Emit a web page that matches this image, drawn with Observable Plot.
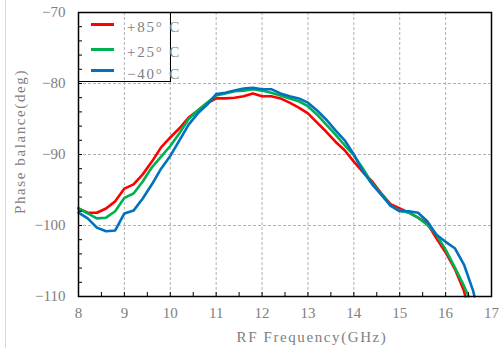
<!DOCTYPE html>
<html><head><meta charset="utf-8">
<script src="https://cdn.jsdelivr.net/npm/d3@7"></script>
<script src="https://cdn.jsdelivr.net/npm/@observablehq/plot@0.6"></script>
<style>
body{margin:0;background:#fff;}
#wrap{position:relative;width:504px;height:348px;overflow:hidden;font-family:"Liberation Serif",serif;}
#edge{position:absolute;left:5px;top:0;width:1px;height:348px;background:#d8d8d8;}
#legend{position:absolute;left:78px;top:12px;width:93px;height:70px;box-sizing:border-box;border:1.5px solid #000;}
.sw{position:absolute;left:12px;width:23px;height:3px;}
.lab{position:absolute;left:48px;color:#808080;font-size:15px;line-height:15px;letter-spacing:1.8px;white-space:nowrap;}
svg{position:absolute;left:0;top:0;}
</style></head>
<body><div id="wrap"><div id="edge"></div></div>
<script>
const seriesNames = ["+85° C", "+25° C", "−40° C"];
const seriesColors = ["#ff0000", "#00b050", "#0070c0"];

const freqRed = [8.0,8.2,8.4,8.6,8.8,9.0,9.2,9.4,9.6,9.8,10.0,10.2,10.4,10.6,10.8,11.0,11.2,11.4,11.6,11.8,12.0,12.2,12.4,12.6,12.8,13.0,13.2,13.4,13.6,13.8,14.0,14.2,14.4,14.6,14.8,15.0,15.2,15.4,15.6,15.8,16.0,16.2,16.4,16.43];
const phaseRed = [-97.6,-98.2,-98.2,-97.6,-96.6,-94.8,-94.2,-92.8,-91.0,-89.0,-87.6,-86.3,-84.8,-83.8,-82.8,-82.1,-82.1,-82.0,-81.8,-81.4,-81.8,-81.8,-82.1,-82.7,-83.4,-84.2,-85.5,-86.8,-88.2,-89.4,-91.0,-92.5,-93.8,-95.5,-97.0,-97.6,-98.2,-98.9,-99.7,-101.8,-103.8,-106.1,-109.2,-110];

const freqGreen = [8.0,8.2,8.4,8.6,8.8,9.0,9.2,9.4,9.6,9.8,10.0,10.2,10.4,10.6,10.8,11.0,11.2,11.4,11.6,11.8,12.0,12.2,12.4,12.6,12.8,13.0,13.2,13.4,13.6,13.8,14.0,14.2,14.4,14.6,14.8,15.0,15.2,15.4,15.6,15.8,16.0,16.2,16.4,16.5];
const phaseGreen = [-97.6,-98.3,-99.0,-98.9,-98.0,-96.1,-95.5,-93.8,-91.8,-90.3,-88.8,-87.0,-85.0,-83.8,-82.7,-81.7,-81.4,-81.1,-81.0,-80.8,-81.0,-81.3,-81.7,-82.1,-82.5,-83.2,-84.4,-85.8,-87.2,-88.7,-90.1,-92.0,-94.1,-95.5,-97.2,-97.9,-98.2,-98.9,-99.9,-101.3,-103.4,-105.9,-108.5,-110];

const freqBlue = [8.0,8.2,8.4,8.6,8.8,9.0,9.2,9.4,9.6,9.8,10.0,10.2,10.4,10.6,10.8,11.0,11.2,11.4,11.6,11.8,12.0,12.2,12.4,12.6,12.8,13.0,13.2,13.4,13.6,13.8,14.0,14.2,14.4,14.6,14.8,15.0,15.2,15.4,15.6,15.8,16.0,16.2,16.4,16.6,16.63];
const phaseBlue = [-98.2,-99.0,-100.3,-100.8,-100.7,-98.3,-97.9,-96.2,-94.2,-92.0,-90.2,-88.0,-85.8,-84.2,-83.0,-81.5,-81.3,-81.0,-80.7,-80.6,-80.8,-80.8,-81.4,-81.8,-82.1,-82.7,-83.8,-85.1,-86.6,-88.0,-90.0,-92.4,-94.2,-95.7,-97.2,-98.0,-98.0,-98.2,-99.4,-101.3,-102.3,-103.2,-105.5,-109.2,-110];

const xMajor = [8,9,10,11,12,13,14,15,16,17];
const xMinor = [8,8.5,9,9.5,10,10.5,11,11.5,12,12.5,13,13.5,14,14.5,15,15.5,16,16.5,17];
const yMajor = [-110,-100,-90,-80,-70];
const yMinor = [-110,-108,-106,-104,-102,-100,-98,-96,-94,-92,-90,-88,-86,-84,-82,-80,-78,-76,-74,-72,-70];
const xLabel = "RF Frequency(GHz)";
const yLabel = "Phase balance(deg)";

const freqs = [freqRed, freqGreen, freqBlue];
const phases = [phaseRed, phaseGreen, phaseBlue];
const data = [];
seriesNames.forEach((name, i) => {
  freqs[i].forEach((f, j) => data.push({series: name, freq: f, phase: phases[i][j]}));
});

const gridStyle = {stroke: "#b0b0b0", strokeOpacity: 1, strokeWidth: 1, strokeDasharray: "3,2"};
const chart = Plot.plot({
  width: 504, height: 348,
  marginLeft: 78, marginRight: 13, marginTop: 12, marginBottom: 52,
  style: {fontFamily: '"Liberation Serif", serif', fontSize: "15px", color: "#808080", background: "transparent"},
  x: {domain: [8, 17], label: null},
  y: {domain: [-110, -70], label: null},
  color: {domain: seriesNames, range: seriesColors},
  marks: [
    Plot.gridX(xMajor.slice(1, -1), gridStyle),
    Plot.gridY(yMajor.slice(1, -1), gridStyle),
    Plot.line(data, {x: "freq", y: "phase", stroke: "series", z: "series", strokeWidth: 2.6}),
    Plot.frame({stroke: "#000", strokeWidth: 1.5}),
    Plot.axisX(xMinor, {tickSize: -4, tickFormat: () => "", stroke: "#000", label: null}),
    Plot.axisX(xMajor, {tickSize: 0, tickPadding: 11, tickFormat: d => String(d), label: null}),
    Plot.axisY(yMinor, {tickSize: -4, tickFormat: () => "", stroke: "#000", label: null}),
    Plot.axisY(yMajor, {tickSize: 0, tickPadding: 13, label: null}),
    Plot.text([xLabel], {frameAnchor: "bottom", textAnchor: "middle", dx: 27, dy: 41, lineAnchor: "middle", fill: "#808080", fontSize: 15}),
    Plot.text([yLabel], {frameAnchor: "left", textAnchor: "middle", rotate: -90, dx: -58, dy: -13, lineAnchor: "middle", fill: "#808080", fontSize: 15})
  ]
});
d3.select(chart).selectAll("text").filter(function() { return this.textContent === xLabel || this.textContent === yLabel; })
  .style("letter-spacing", "1.6px");

const wrap = document.getElementById("wrap");
wrap.appendChild(chart);

const legend = document.createElement("div");
legend.id = "legend";
const lineTops = [9.5, 34.5, 56];
const textTops = [6.5, 31.5, 53.5];
seriesNames.forEach((name, i) => {
  const sw = document.createElement("div");
  sw.className = "sw";
  sw.style.top = lineTops[i] + "px";
  sw.style.background = seriesColors[i];
  legend.appendChild(sw);
  const lab = document.createElement("div");
  lab.className = "lab";
  lab.style.top = textTops[i] + "px";
  lab.textContent = name;
  legend.appendChild(lab);
});
wrap.appendChild(legend);
</script>
</body></html>
